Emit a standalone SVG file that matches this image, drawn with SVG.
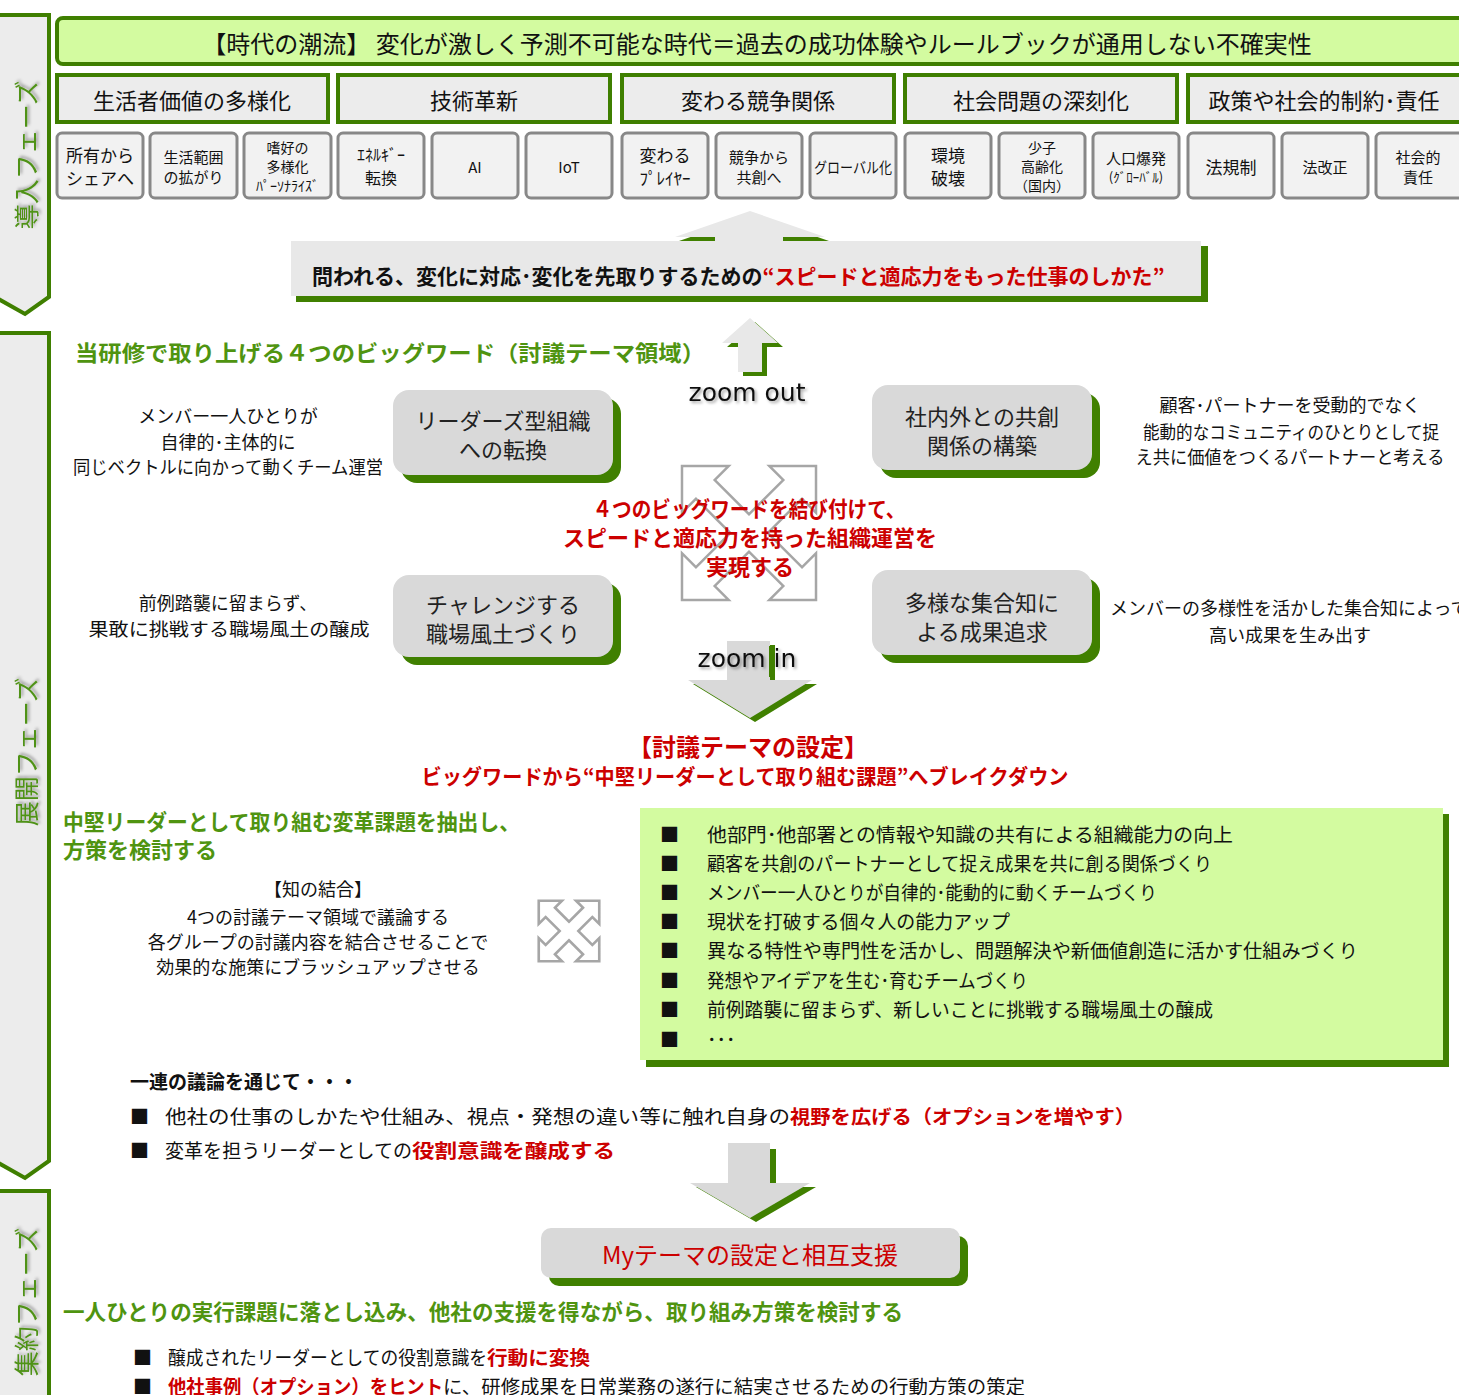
<svg xmlns="http://www.w3.org/2000/svg" width="1459" height="1395" viewBox="0 0 1459 1395">
<defs>
<style>
text{font-family:"Noto Sans CJK JP","Noto Sans",sans-serif;}
.phase{fill:#ececec;stroke:#3f7f00;stroke-width:4;}
.ptxt{fill:#4f9218;font-size:25px;text-anchor:middle;dominant-baseline:central;}
.cat{fill:#ececec;stroke:#3f7f00;stroke-width:4;}
.ctxt{font-size:22px;text-anchor:middle;dominant-baseline:central;fill:#111;}
.sb{fill:#f2f2f2;stroke:#888;stroke-width:3;}
.st{text-anchor:middle;dominant-baseline:central;fill:#111;}
.node{fill:#d9d9d9;}
.shadow{fill:#408000;}
.ntxt{font-size:22px;text-anchor:middle;dominant-baseline:central;fill:#222;}
.side{font-size:18px;text-anchor:middle;dominant-baseline:central;fill:#111;}
.gtitle{fill:#4f9410;font-weight:bold;font-size:22px;dominant-baseline:central;}
.red{fill:#cc0000;}
.rtxt{fill:#cc0000;font-weight:bold;text-anchor:middle;dominant-baseline:central;}
.li{font-size:19px;dominant-baseline:central;fill:#111;}
.xo{fill:none;stroke:#a6a6a6;stroke-width:5;stroke-linejoin:miter;}
.xi{fill:#fff;stroke:none;}
.arr{fill:#d9d9d9;}
.zt{font-family:"DejaVu Sans",Verdana,sans-serif;font-size:25px;fill:#111;text-anchor:middle;dominant-baseline:central;}
</style>
<filter id="sh" x="-20%" y="-20%" width="140%" height="140%"><feDropShadow dx="2" dy="2" stdDeviation="1.5" flood-color="#000" flood-opacity="0.35"/></filter>
<polygon id="ar" points="0,-12 63,-12 63,-30 93,0 63,30 63,12 0,12"/>
</defs>

<!-- phase bars -->
<g id="phase1">
<polygon class="phase" points="-5,15 49,15 49,297 25,314 -5,297"/>
<text class="ptxt" transform="translate(25,155) rotate(-90)" filter="url(#sh)">導入フェーズ</text>
</g>
<g id="phase2">
<polygon class="phase" points="-5,333 49,333 49,1161 25,1178 -5,1161"/>
<text class="ptxt" transform="translate(25,752) rotate(-90)" filter="url(#sh)">展開フェーズ</text>
</g>
<g id="phase3">
<polygon class="phase" points="-5,1191 49,1191 49,1400 -5,1400"/>
<text class="ptxt" transform="translate(25,1302) rotate(-90)" filter="url(#sh)">集約フェーズ</text>
</g>

<!-- top banner -->
<g id="trend">
<rect x="57" y="18" width="1410" height="46" rx="6" fill="#d3fba0" stroke="#3f7f00" stroke-width="4"/>
<text x="757" y="42" font-size="24" text-anchor="middle" dominant-baseline="central" fill="#111">【時代の潮流】 変化が激しく予測不可能な時代＝過去の成功体験やルールブックが通用しない不確実性</text>
</g>

<!-- categories -->
<g id="cat1"><rect class="cat" x="57" y="75" width="271" height="47"/><text class="ctxt" x="192" y="99">生活者価値の多様化</text></g>
<g id="cat2"><rect class="cat" x="338" y="75" width="272" height="47"/><text class="ctxt" x="474" y="99">技術革新</text></g>
<g id="cat3"><rect class="cat" x="622" y="75" width="272" height="47"/><text class="ctxt" x="758" y="99">変わる競争関係</text></g>
<g id="cat4"><rect class="cat" x="905" y="75" width="272" height="47"/><text class="ctxt" x="1041" y="99">社会問題の深刻化</text></g>
<g id="cat5"><rect class="cat" x="1188" y="75" width="280" height="47"/><text class="ctxt" x="1324" y="99">政策や社会的制約･責任</text></g>

<!-- small boxes -->
<g id="s1"><rect class="sb" x="57" y="133" width="86" height="65" rx="5"/><text class="st" font-size="17"><tspan x="100" y="154">所有から</tspan><tspan x="100" y="177">シェアへ</tspan></text></g>
<g id="s2"><rect class="sb" x="150" y="133" width="87" height="65" rx="5"/><text class="st" font-size="15"><tspan x="193.5" y="156">生活範囲</tspan><tspan x="193.5" y="176">の拡がり</tspan></text></g>
<g id="s3"><rect class="sb" x="244" y="133" width="87" height="65" rx="5"/><text class="st" font-size="14"><tspan x="287.5" y="147">嗜好の</tspan><tspan x="287.5" y="166">多様化</tspan><tspan x="287.5" y="185">ﾊﾟｰｿﾅﾗｲｽﾞ</tspan></text></g>
<g id="s4"><rect class="sb" x="338" y="133" width="86" height="65" rx="5"/><text class="st" font-size="16"><tspan x="381" y="154">ｴﾈﾙｷﾞｰ</tspan><tspan x="381" y="177">転換</tspan></text></g>
<g id="s5"><rect class="sb" x="432" y="133" width="86" height="65" rx="5"/><text class="st" font-size="15" x="475" y="166">AI</text></g>
<g id="s6"><rect class="sb" x="526" y="133" width="86" height="65" rx="5"/><text class="st" font-size="15" x="569" y="166">IoT</text></g>
<g id="s7"><rect class="sb" x="622" y="133" width="86" height="65" rx="5"/><text class="st" font-size="17"><tspan x="665" y="154">変わる</tspan><tspan x="665" y="177">ﾌﾟﾚｲﾔｰ</tspan></text></g>
<g id="s8"><rect class="sb" x="716" y="133" width="86" height="65" rx="5"/><text class="st" font-size="15"><tspan x="759" y="156">競争から</tspan><tspan x="759" y="176">共創へ</tspan></text></g>
<g id="s9"><rect class="sb" x="810" y="133" width="86" height="65" rx="5"/><text class="st" font-size="15" x="853" y="166" textLength="78" lengthAdjust="spacingAndGlyphs">グローバル化</text></g>
<g id="s10"><rect class="sb" x="905" y="133" width="86" height="65" rx="5"/><text class="st" font-size="17"><tspan x="948" y="154">環境</tspan><tspan x="948" y="177">破壊</tspan></text></g>
<g id="s11"><rect class="sb" x="999" y="133" width="86" height="65" rx="5"/><text class="st" font-size="14"><tspan x="1042" y="147">少子</tspan><tspan x="1042" y="166">高齢化</tspan><tspan x="1042" y="185">（国内）</tspan></text></g>
<g id="s12"><rect class="sb" x="1093" y="133" width="86" height="65" rx="5"/><text class="st"><tspan x="1136" y="157" font-size="15">人口爆発</tspan><tspan x="1136" y="176" font-size="13">(ｸﾞﾛｰﾊﾞﾙ)</tspan></text></g>
<g id="s13"><rect class="sb" x="1188" y="133" width="86" height="65" rx="5"/><text class="st" font-size="17" x="1231" y="166">法規制</text></g>
<g id="s14"><rect class="sb" x="1282" y="133" width="86" height="65" rx="5"/><text class="st" font-size="15" x="1325" y="166">法改正</text></g>
<g id="s15"><rect class="sb" x="1376" y="133" width="90" height="65" rx="5"/><text class="st" font-size="15"><tspan x="1418" y="156">社会的</tspan><tspan x="1418" y="176">責任</tspan></text></g>

<!-- connectors / arrows -->
<g id="connectors">
<polygon class="shadow" points="754,215 829,241 787,241 787,260 719,260 719,241 679,241"/>
<polygon points="750,211 825,237 783,237 783,260 715,260 715,237 675,237" fill="#e8e8e8"/>
<polygon class="shadow" points="755,322 783,347 767,347 767,376 743,376 743,347 727,347"/>
<polygon points="750,318 778,343 762,343 762,372 738,372 738,343 722,343" fill="#e8e8e8"/>
<g transform="translate(749,533)">
<g class="xo">
<use href="#ar" transform="rotate(-135)"/><use href="#ar" transform="rotate(-45)"/><use href="#ar" transform="rotate(45)"/><use href="#ar" transform="rotate(135)"/>
</g>
<g class="xi">
<use href="#ar" transform="rotate(-135)"/><use href="#ar" transform="rotate(-45)"/><use href="#ar" transform="rotate(45)"/><use href="#ar" transform="rotate(135)"/>
</g>
</g>
<polygon class="shadow" points="732,645 775,645 775,684 817,684 755,722 693,684 732,684"/>
<polygon class="arr" points="727,641 770,641 770,680 812,680 750,718 688,680 727,680"/>
<g transform="translate(569,931) scale(0.44)">
<g class="xo" style="stroke-width:12">
<use href="#ar" transform="rotate(-135)"/><use href="#ar" transform="rotate(-45)"/><use href="#ar" transform="rotate(45)"/><use href="#ar" transform="rotate(135)"/>
</g>
<g class="xi">
<use href="#ar" transform="rotate(-135)"/><use href="#ar" transform="rotate(-45)"/><use href="#ar" transform="rotate(45)"/><use href="#ar" transform="rotate(135)"/>
</g>
</g>
<polygon class="shadow" points="734,1149 776,1149 776,1187 816,1187 756,1222 696,1187 734,1187"/>
<polygon class="arr" points="728,1143 770,1143 770,1183 810,1183 750,1218 690,1183 728,1183"/>
</g>

<!-- question banner -->
<g id="question">
<rect class="shadow" x="296" y="246" width="912" height="56"/>
<rect x="291" y="241" width="910" height="55" fill="#e8e8e8"/>
<text x="312" y="275" font-size="21" font-weight="bold" dominant-baseline="central" fill="#111">問われる、変化に対応･変化を先取りするための<tspan class="red">“スピードと適応力をもった仕事のしかた”</tspan></text>
</g>

<text class="gtitle" x="75" y="351" font-size="24" textLength="630" lengthAdjust="spacingAndGlyphs">当研修で取り上げる４つのビッグワード（討議テーマ領域）</text>
<text class="zt" x="747" y="392" filter="url(#sh)">zoom out</text>

<!-- four nodes -->
<g id="n1">
<rect class="shadow" x="401" y="398" width="220" height="85" rx="16"/>
<rect class="node" x="393" y="390" width="220" height="85" rx="16"/>
<text class="ntxt"><tspan x="503" y="419">リーダーズ型組織</tspan><tspan x="503" y="448">への転換</tspan></text>
</g>
<g id="n2">
<rect class="shadow" x="880" y="393" width="220" height="85" rx="16"/>
<rect class="node" x="872" y="385" width="220" height="85" rx="16"/>
<text class="ntxt"><tspan x="982" y="415">社内外との共創</tspan><tspan x="982" y="444">関係の構築</tspan></text>
</g>
<g id="n3">
<rect class="shadow" x="401" y="583" width="220" height="82" rx="16"/>
<rect class="node" x="393" y="575" width="220" height="82" rx="16"/>
<text class="ntxt"><tspan x="503" y="603">チャレンジする</tspan><tspan x="503" y="632">職場風土づくり</tspan></text>
</g>
<g id="n4">
<rect class="shadow" x="880" y="578" width="220" height="85" rx="16"/>
<rect class="node" x="872" y="570" width="220" height="85" rx="16"/>
<text class="ntxt"><tspan x="982" y="601">多様な集合知に</tspan><tspan x="982" y="630">よる成果追求</tspan></text>
</g>

<text class="side"><tspan x="228" y="415">メンバー一人ひとりが</tspan><tspan x="228" y="441">自律的･主体的に</tspan><tspan x="228" y="466" textLength="310" lengthAdjust="spacingAndGlyphs">同じベクトルに向かって動くチーム運営</tspan></text>
<text class="side"><tspan x="1290" y="404">顧客･パートナーを受動的でなく</tspan><tspan x="1291" y="431" textLength="296" lengthAdjust="spacingAndGlyphs">能動的なコミュニティのひとりとして捉</tspan><tspan x="1290" y="456" textLength="309" lengthAdjust="spacingAndGlyphs">え共に価値をつくるパートナーと考える</tspan></text>
<text class="side"><tspan x="228" y="602">前例踏襲に留まらず、</tspan><tspan x="229" y="628" textLength="281" lengthAdjust="spacingAndGlyphs">果敢に挑戦する職場風土の醸成</tspan></text>
<text class="side"><tspan x="1110" y="607" text-anchor="start">メンバーの多様性を活かした集合知によって</tspan><tspan x="1290" y="634">高い成果を生み出す</tspan></text>

<text class="rtxt" font-size="22"><tspan x="749" y="507" textLength="313" lengthAdjust="spacingAndGlyphs">４つのビッグワードを結び付けて、</tspan><tspan x="750" y="536">スピードと適応力を持った組織運営を</tspan><tspan x="750" y="565">実現する</tspan></text>

<text class="zt" x="747" y="658" filter="url(#sh)">zoom in</text>
<rect class="shadow" x="769" y="646" width="5" height="31"/>

<text class="rtxt" font-size="24" x="748" y="745">【討議テーマの設定】</text>
<text class="rtxt" font-size="21" x="745" y="775" textLength="647" lengthAdjust="spacingAndGlyphs">ビッグワードから“中堅リーダーとして取り組む課題”へブレイクダウン</text>

<text class="gtitle" font-size="21"><tspan x="63" y="820" textLength="457" lengthAdjust="spacingAndGlyphs">中堅リーダーとして取り組む変革課題を抽出し、</tspan><tspan x="63" y="848">方策を検討する</tspan></text>

<text class="side"><tspan x="318" y="888">【知の結合】</tspan><tspan x="318" y="916">4つの討議テーマ領域で議論する</tspan><tspan x="318" y="941">各グループの討議内容を結合させることで</tspan><tspan x="318" y="966">効果的な施策にブラッシュアップさせる</tspan></text>

<!-- theme list box -->
<g id="themes">
<rect class="shadow" x="646" y="814" width="803" height="253"/>
<rect x="640" y="808" width="803" height="252" fill="#d3fba0"/>
<text class="li"><tspan x="660" y="833">■</tspan><tspan x="707" y="833" textLength="526" lengthAdjust="spacingAndGlyphs">他部門･他部署との情報や知識の共有による組織能力の向上</tspan><tspan x="660" y="862">■</tspan><tspan x="707" y="862" textLength="505" lengthAdjust="spacingAndGlyphs">顧客を共創のパートナーとして捉え成果を共に創る関係づくり</tspan><tspan x="660" y="891">■</tspan><tspan x="707" y="891" textLength="450" lengthAdjust="spacingAndGlyphs">メンバー一人ひとりが自律的･能動的に動くチームづくり</tspan><tspan x="660" y="920">■</tspan><tspan x="707" y="920" textLength="303" lengthAdjust="spacingAndGlyphs">現状を打破する個々人の能力アップ</tspan><tspan x="660" y="949">■</tspan><tspan x="707" y="949" textLength="651" lengthAdjust="spacingAndGlyphs">異なる特性や専門性を活かし、問題解決や新価値創造に活かす仕組みづくり</tspan><tspan x="660" y="979">■</tspan><tspan x="707" y="979" textLength="321" lengthAdjust="spacingAndGlyphs">発想やアイデアを生む･育むチームづくり</tspan><tspan x="660" y="1008">■</tspan><tspan x="707" y="1008" textLength="506" lengthAdjust="spacingAndGlyphs">前例踏襲に留まらず、新しいことに挑戦する職場風土の醸成</tspan><tspan x="660" y="1038">■</tspan><tspan x="707" y="1038">･･･</tspan></text>
</g>

<text class="li" font-weight="bold" x="130" y="1080">一連の議論を通じて・・・</text>
<text class="li" font-size="21"><tspan x="130" y="1115">■</tspan><tspan x="165" y="1115" textLength="625" lengthAdjust="spacingAndGlyphs">他社の仕事のしかたや仕組み、視点・発想の違い等に触れ自身の</tspan><tspan class="red" font-weight="bold" textLength="345" lengthAdjust="spacingAndGlyphs">視野を広げる（オプションを増やす）</tspan></text>
<text class="li" font-size="21"><tspan x="130" y="1149">■</tspan><tspan x="165" y="1149" textLength="247" lengthAdjust="spacingAndGlyphs">変革を担うリーダーとしての</tspan><tspan class="red" font-weight="bold" textLength="203" lengthAdjust="spacingAndGlyphs">役割意識を醸成する</tspan></text>

<g id="mytheme">
<rect class="shadow" x="549" y="1236" width="419" height="50" rx="10"/>
<rect class="node" x="541" y="1228" width="419" height="50" rx="10"/>
<text x="750" y="1253" font-size="24" text-anchor="middle" dominant-baseline="central" fill="#cc0000">Myテーマの設定と相互支援</text>
</g>

<text class="gtitle" font-size="21" x="63" y="1310" textLength="840" lengthAdjust="spacingAndGlyphs">一人ひとりの実行課題に落とし込み、他社の支援を得ながら、取り組み方策を検討する</text>
<text class="li"><tspan x="133" y="1356">■</tspan><tspan x="168" y="1356" textLength="319" lengthAdjust="spacingAndGlyphs">醸成されたリーダーとしての役割意識を</tspan><tspan class="red" font-weight="bold" textLength="103" lengthAdjust="spacingAndGlyphs">行動に変換</tspan></text>
<text class="li"><tspan x="133" y="1385">■</tspan><tspan x="168" y="1385" class="red" font-weight="bold" textLength="275" lengthAdjust="spacingAndGlyphs">他社事例（オプション）をヒント</tspan><tspan textLength="582" lengthAdjust="spacingAndGlyphs">に、研修成果を日常業務の遂行に結実させるための行動方策の策定</tspan></text>
</svg>
